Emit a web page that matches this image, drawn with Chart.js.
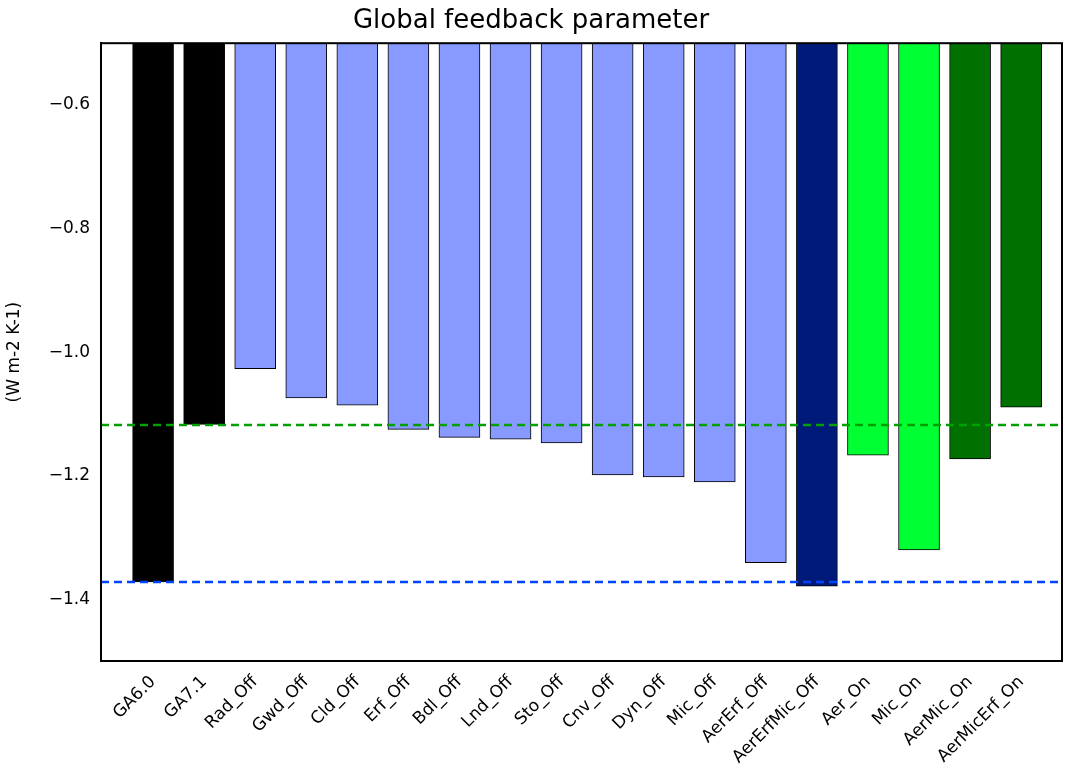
<!DOCTYPE html>
<html>
<head>
<meta charset="utf-8">
<script src="https://cdn.jsdelivr.net/npm/chart.js@4"></script>
<style>
  html, body { margin: 0; padding: 0; background: #fff; }
  #wrap { width: 1065px; height: 771px; }
</style>
</head>
<body>
<div id="wrap"><canvas id="chart"></canvas></div>
<script>
const runs = ["GA6.0", "GA7.1", "Rad_Off", "Gwd_Off", "Cld_Off", "Erf_Off", "Bdl_Off", "Lnd_Off", "Sto_Off",
  "Cnv_Off", "Dyn_Off", "Mic_Off", "AerErf_Off", "AerErfMic_Off", "Aer_On", "Mic_On", "AerMic_On", "AerMicErf_On"];
const feedback = [-1.372, -1.117, -1.027, -1.074, -1.086, -1.125, -1.138, -1.141, -1.147,
  -1.199, -1.202, -1.210, -1.341, -1.379, -1.167, -1.320, -1.173, -1.089];
const barColors = ["#000000", "#000000", "#8899ff", "#8899ff", "#8899ff", "#8899ff", "#8899ff", "#8899ff", "#8899ff",
  "#8899ff", "#8899ff", "#8899ff", "#8899ff", "#001a7a", "#00ff33", "#00ff33", "#007000", "#007000"];
const ga71Line = -1.118;
const ga60Line = -1.372;
const yTicks = [-1.5, -1.4, -1.2, -1.0, -0.8, -0.6, -0.5];

const xMin = -1.02, xMax = 17.8;
const font = "'DejaVu Sans', sans-serif";

new Chart(document.getElementById("chart"), {
  data: {
    datasets: [
      {
        type: "bar",
        data: feedback.map((v, i) => ({ x: i, y: [-0.5, v] })),
        backgroundColor: barColors,
        borderColor: "#000",
        borderWidth: 1,
        borderSkipped: false,
        barThickness: 41,
        order: 2
      },
      {
        type: "line",
        data: [{ x: xMin, y: ga71Line }, { x: xMax, y: ga71Line }],
        borderColor: "#00a000",
        borderWidth: 2.5,
        borderDash: [8, 5],
        pointRadius: 0,
        order: 1
      },
      {
        type: "line",
        data: [{ x: xMin, y: ga60Line }, { x: xMax, y: ga60Line }],
        borderColor: "#0044ff",
        borderWidth: 2.5,
        borderDash: [8, 5],
        pointRadius: 0,
        order: 1
      }
    ]
  },
  options: {
    responsive: true,
    maintainAspectRatio: false,
    animation: false,
    layout: { padding: { top: 0, right: 3, left: 0, bottom: 0 } },
    plugins: {
      legend: { display: false },
      tooltip: { enabled: false },
      title: {
        display: true,
        text: "Global feedback parameter",
        color: "#000",
        font: { family: font, size: 26, weight: "normal" },
        padding: { top: 6, bottom: 6 }
      }
    },
    scales: {
      x: {
        type: "linear",
        min: xMin,
        max: xMax,
        offset: false,
        afterBuildTicks: (s) => { s.ticks = runs.map((_, i) => ({ value: i })); },
        afterFit: (s) => { s.height = 110; },
        grid: { display: false },
        border: { color: "#000", width: 2 },
        ticks: {
          autoSkip: false,
          maxRotation: 45,
          minRotation: 45,
          color: "#000",
          font: { family: font, size: 17 },
          callback: (v) => runs[v] ?? ""
        }
      },
      y: {
        min: -1.5,
        max: -0.5,
        afterBuildTicks: (s) => { s.ticks = yTicks.map((v) => ({ value: v })); },
        afterFit: (s) => { s.width = 101; },
        grid: { display: false },
        border: { color: "#000", width: 2 },
        title: {
          display: true,
          text: "(W m-2 K-1)",
          color: "#000",
          font: { family: font, size: 17 }
        },
        ticks: {
          color: "#000",
          font: { family: font, size: 17 },
          callback: (v) => (v === -1.5 || v === -0.5) ? "" : "\u2212" + Math.abs(v).toFixed(1)
        }
      }
    }
  },
  plugins: [{
    id: "frame",
    afterDraw(chart) {
      const { ctx, chartArea: a } = chart;
      ctx.save();
      ctx.strokeStyle = "#000";
      ctx.lineWidth = 2;
      ctx.strokeRect(a.left, a.top, a.right - a.left, a.bottom - a.top);
      ctx.restore();
    }
  }]
});
</script>
</body>
</html>
